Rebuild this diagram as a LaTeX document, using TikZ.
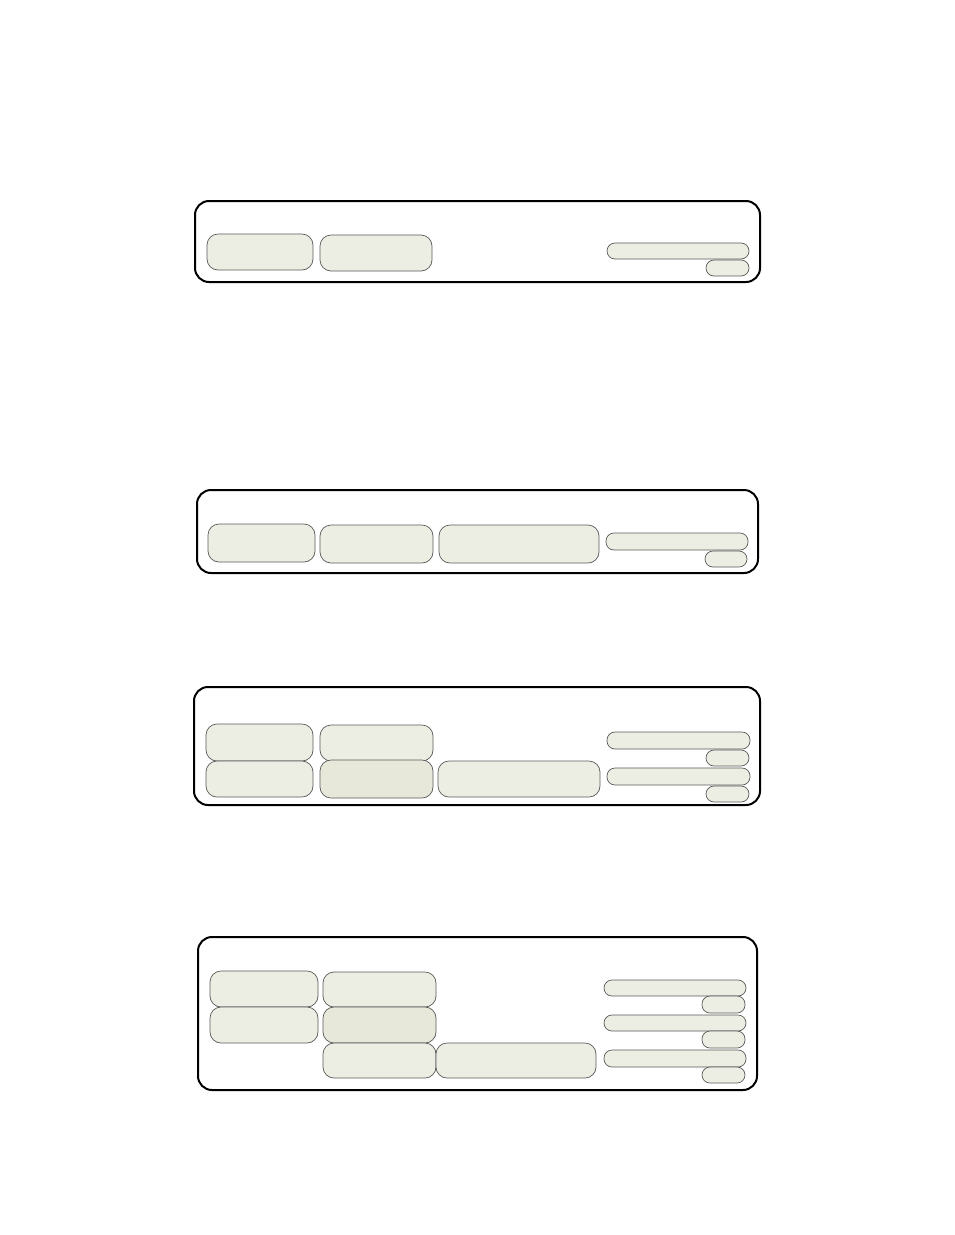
\documentclass[tikz,border=0pt]{standalone}
\usepackage{tikz}
\definecolor{slotfill}{HTML}{EDEEE3}
\definecolor{slotdark}{HTML}{E7E8DA}
\begin{document}
\begin{tikzpicture}[x=1pt,y=-1pt,
    frame/.style={draw=black,line width=2pt,rounded corners=14pt},
    slot/.style={draw=black!65,line width=0.7pt,fill=slotfill,rounded corners=11pt},
    darkslot/.style={slot,fill=slotdark},
    bar/.style={draw=black!65,line width=0.7pt,fill=slotfill,rounded corners=8pt}]
    \useasboundingbox (0,0) rectangle (954,1235);
    % first panel
    \draw[frame] (195,201) rectangle (760,282);
    \draw[slot] (207,234) rectangle (313,270);
    \draw[slot] (320,235) rectangle (432,271);
    \draw[bar]  (607,243) rectangle (749,259);
    \draw[bar]  (706,260) rectangle (749,276);
    % second panel
    \draw[frame] (197,490) rectangle (758,573);
    \draw[slot] (208,524) rectangle (315,562);
    \draw[slot] (320,525) rectangle (433,563);
    \draw[slot] (439,525) rectangle (599,563);
    \draw[bar]  (606,533) rectangle (748,550);
    \draw[bar]  (705,551) rectangle (747,567);
    % third panel
    \draw[frame] (194,687) rectangle (760,805);
    \draw[slot] (206,724) rectangle (313,761);
    \draw[slot] (206,761) rectangle (313,797);
    \draw[slot] (320,725) rectangle (433,761);
    \draw[darkslot] (320,760) rectangle (433,798);
    \draw[slot] (438,761) rectangle (600,797);
    \draw[bar]  (607,732) rectangle (750,749);
    \draw[bar]  (706,750) rectangle (749,766);
    \draw[bar]  (607,768) rectangle (750,785);
    \draw[bar]  (706,786) rectangle (749,802);
    % fourth panel
    \draw[frame] (198,937) rectangle (757,1090);
    \draw[slot] (210,971) rectangle (318,1007);
    \draw[slot] (210,1007) rectangle (318,1043);
    \draw[slot] (323,972) rectangle (436,1007);
    \draw[darkslot] (323,1007) rectangle (436,1043);
    \draw[slot] (323,1043) rectangle (436,1078);
    \draw[slot] (436,1043) rectangle (596,1078);
    \draw[bar]  (604,980) rectangle (746,996);
    \draw[bar]  (702,996) rectangle (745,1013);
    \draw[bar]  (604,1015) rectangle (746,1031);
    \draw[bar]  (702,1031) rectangle (745,1048);
    \draw[bar]  (604,1050) rectangle (746,1067);
    \draw[bar]  (702,1067) rectangle (745,1083);
\end{tikzpicture}
\end{document}
